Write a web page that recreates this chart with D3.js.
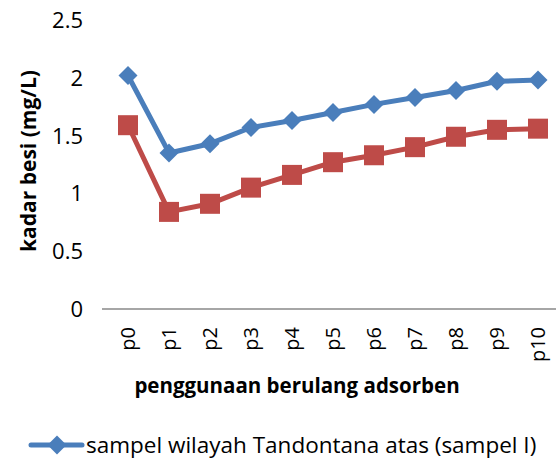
<!DOCTYPE html>
<html>
<head>
<meta charset="utf-8">
<script src="https://cdn.jsdelivr.net/npm/d3@7"></script>
<style>
  body { margin: 0; background: #fff; }
  svg { display: block; font-family: "Open Sans", sans-serif; }
</style>
</head>
<body>
<div id="chart"></div>
<script>
const categories = ["p0", "p1", "p2", "p3", "p4", "p5", "p6", "p7", "p8", "p9", "p10"];
const sampelI = [2.02, 1.35, 1.43, 1.57, 1.63, 1.70, 1.77, 1.83, 1.89, 1.97, 1.98];
const sampelII = [1.59, 0.84, 0.91, 1.05, 1.16, 1.27, 1.33, 1.40, 1.49, 1.55, 1.56];
const yTicks = [0, 0.5, 1, 1.5, 2, 2.5];
const legendLabel = "sampel wilayah Tandontana atas (sampel I)";

const width = 556, height = 459;
const blue = "#4A7EBB", red = "#BE4B48";

const svg = d3.select("#chart").append("svg")
  .attr("width", width)
  .attr("height", height);

const x = d3.scalePoint().domain(categories).range([128, 538]);
const y = d3.scaleLinear().domain([0, 2.5]).range([309, 20]);

// y tick labels (no axis line in the original)
svg.selectAll("text.ytick")
  .data(yTicks)
  .enter().append("text")
  .attr("class", "ytick")
  .attr("x", 83)
  .attr("y", d => y(d) + 8)
  .attr("text-anchor", "end")
  .attr("font-size", "22px")
  .attr("fill", "#000")
  .text(d => d);

// x axis line
svg.append("line")
  .attr("x1", 102).attr("x2", 556)
  .attr("y1", y(0)).attr("y2", y(0))
  .attr("stroke", "#888").attr("stroke-width", 1.5);

// x tick labels, rotated
svg.selectAll("text.xtick")
  .data(categories)
  .enter().append("text")
  .attr("class", "xtick")
  .attr("transform", d => `translate(${x(d) + 7},327) rotate(-90)`)
  .attr("text-anchor", "end")
  .attr("font-size", "20px")
  .attr("fill", "#000")
  .text(d => d);

// axis titles
svg.append("text")
  .attr("transform", "translate(36,161) rotate(-90)")
  .attr("text-anchor", "middle")
  .attr("font-size", "21px")
  .attr("font-weight", "bold")
  .text("kadar besi (mg/L)");

svg.append("text")
  .attr("x", 297).attr("y", 393)
  .attr("text-anchor", "middle")
  .attr("font-size", "20.5px")
  .attr("font-weight", "bold")
  .text("penggunaan berulang adsorben");

const line = d3.line()
  .x((d, i) => x(categories[i]))
  .y(d => y(d));

const diamond = d3.symbol().type(d3.symbolDiamond2).size(230);

// series II (red, squares)
svg.append("path")
  .datum(sampelII)
  .attr("d", line)
  .attr("fill", "none")
  .attr("stroke", red)
  .attr("stroke-width", 5)
  .attr("stroke-linejoin", "round");

svg.selectAll("rect.sq")
  .data(sampelII)
  .enter().append("rect")
  .attr("class", "sq")
  .attr("x", (d, i) => x(categories[i]) - 10)
  .attr("y", d => y(d) - 10)
  .attr("width", 20).attr("height", 20)
  .attr("fill", red);

// series I (blue, diamonds)
svg.append("path")
  .datum(sampelI)
  .attr("d", line)
  .attr("fill", "none")
  .attr("stroke", blue)
  .attr("stroke-width", 5)
  .attr("stroke-linejoin", "round");

svg.selectAll("path.dm")
  .data(sampelI)
  .enter().append("path")
  .attr("class", "dm")
  .attr("d", diamond)
  .attr("transform", (d, i) => `translate(${x(categories[i])},${y(d)})`)
  .attr("fill", blue);

// legend
const lg = svg.append("g").attr("transform", "translate(0,445)");
lg.append("line")
  .attr("x1", 31).attr("x2", 82)
  .attr("stroke", blue).attr("stroke-width", 5)
  .attr("stroke-linecap", "round");
lg.append("path")
  .attr("d", diamond)
  .attr("transform", "translate(57,0)")
  .attr("fill", blue);
lg.append("text")
  .attr("x", 86).attr("y", 8)
  .attr("font-size", "22.5px")
  .attr("fill", "#000")
  .text(legendLabel);
</script>
</body>
</html>
